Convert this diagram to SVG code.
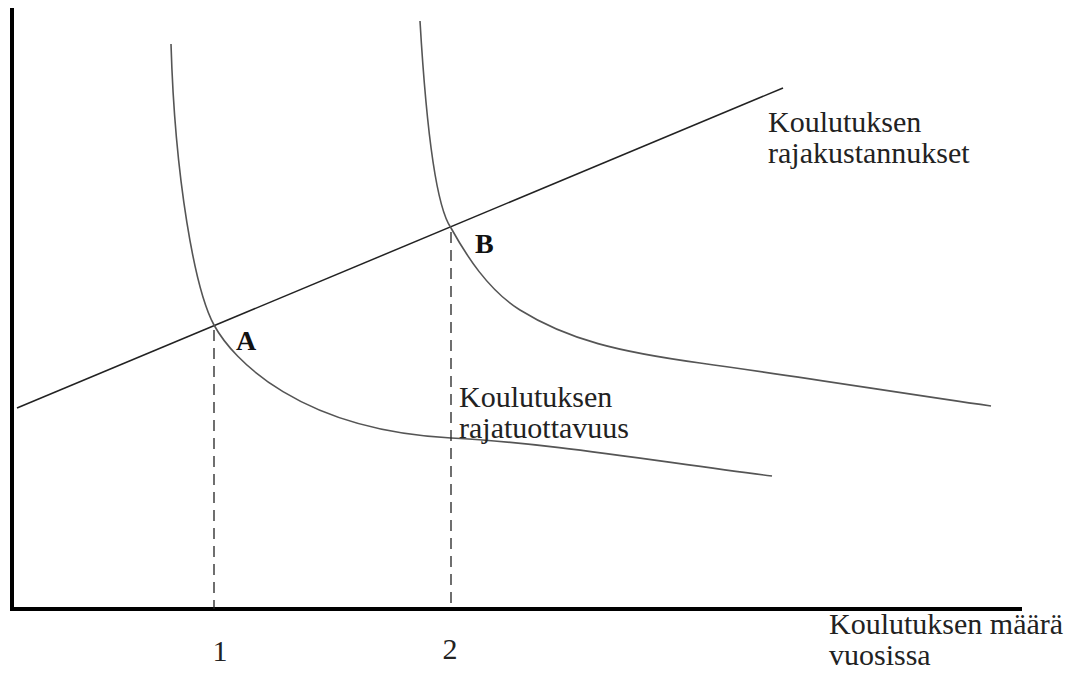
<svg xmlns="http://www.w3.org/2000/svg" width="1071" height="673" viewBox="0 0 1071 673">
<style>
.axis{stroke:#000;stroke-width:4;fill:none}
.curve{stroke:#555;stroke-width:1.6;fill:none}
.line{stroke:#222;stroke-width:1.5;fill:none}
.dash{stroke:#222;stroke-width:1.3;stroke-dasharray:11 7;fill:none}
text{font-family:'Liberation Serif','DejaVu Serif',serif}
.lbl{font-size:30px;fill:#222}
.pt{font-size:28px;font-weight:bold;fill:#111}
</style>
<rect width="1071" height="673" fill="#fff"/>
<g id="connectors">
<path id="y-axis" class="axis" d="M12,8 L12,611"/>
<path id="x-axis" class="axis" d="M10,609 L1022,609"/>
<path id="mc-line" class="line" d="M17,408 L783,88"/>
<path id="mr-curve-1" class="curve" d="M171,44 C175,180 195,290 214,325 C233,360 300,430 451,438 C551,443 660,462 772,476"/>
<path id="mr-curve-2" class="curve" d="M420,21 C427,140 437,208 451,228 C466,255 488,290 520,310 C568,340 620,352 700,363 C800,376.75 900,393 991,406"/>
<path id="dash-1" class="dash" d="M214,330 L214,609"/>
<path id="dash-2" class="dash" d="M451,232 L451,609"/>
</g>
<g id="label-mc"><text class="lbl" x="768" y="132">Koulutuksen</text><text class="lbl" x="768" y="163">rajakustannukset</text></g>
<g id="label-mr"><text class="lbl" x="459" y="407">Koulutuksen</text><text class="lbl" x="459" y="438">rajatuottavuus</text></g>
<g id="label-x"><text class="lbl" x="829" y="634">Koulutuksen määrä</text><text class="lbl" x="829" y="665">vuosissa</text></g>
<g id="tick-1"><text class="lbl" x="220" y="661" text-anchor="middle">1</text></g>
<g id="tick-2"><text class="lbl" x="450" y="659" text-anchor="middle">2</text></g>
<g id="point-A"><text class="pt" x="236" y="350">A</text></g>
<g id="point-B"><text class="pt" x="475" y="253">B</text></g>
</svg>
